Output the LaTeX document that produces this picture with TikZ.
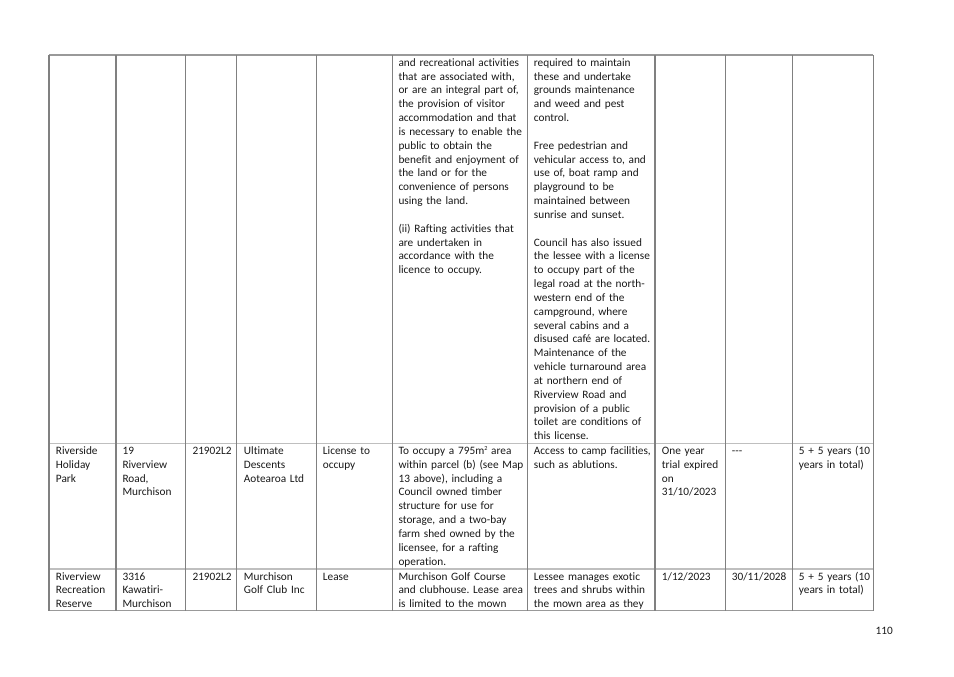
\documentclass[tikz,border=0pt]{standalone}
\usepackage{fontspec}
\setmainfont{Carlito}[Ligatures=NoCommon]
\usepackage{tikz}
\frenchspacing

\begin{document}
\begin{tikzpicture}[x=0.8858pt, y=-0.8858pt,
        cell/.style={anchor=base west, inner sep=0pt, align=left, text=black!90,
            font=\fontsize{10}{12.25}\selectfont},
        vrule/.style={draw=black!50, line width=0.9pt},
        hrule/.style={draw=black!25, line width=1.6pt},
        edgerule/.style={draw=black!40, line width=1.3pt}]
        \useasboundingbox[fill=white] (0,0) rectangle (954,676);

        \draw[edgerule] (49,55) -- (873.3,55);
        \draw[hrule] (49,443.5) -- (873.3,443.5);
        \draw[hrule] (49,569) -- (873.3,569);
        \draw[edgerule] (49,610.7) -- (873.3,610.7);

        \draw[vrule] (49,55) -- (49,610.7);
        \draw[vrule] (116,55) -- (116,610.7);
        \draw[vrule] (185.7,55) -- (185.7,610.7);
        \draw[vrule] (236.7,55) -- (236.7,610.7);
        \draw[vrule] (316.3,55) -- (316.3,610.7);
        \draw[vrule] (392.3,55) -- (392.3,610.7);
        \draw[vrule] (527.3,55) -- (527.3,610.7);
        \draw[vrule] (655,55) -- (655,610.7);
        \draw[vrule] (725.7,55) -- (725.7,610.7);
        \draw[vrule] (792.7,55) -- (792.7,610.7);
        \draw[vrule] (873.3,55) -- (873.3,610.7);

        \node[cell, text width=127pt] (purpose1) at (398.3,66.3) {and recreational activities\\
            that are associated with,\\ or are an integral part of,\\ the provision of visitor\\
            accommodation and that\\ is necessary to enable the\\ public to obtain the\\
            benefit and enjoyment of\\ the land or for the\\ convenience of persons\\
            using the land.\\[12.25pt]
            (ii) Rafting activities that\\ are undertaken in\\ accordance with the\\ licence to occupy.};
        \node[cell, text width=120pt] (cond1) at (533.7,66.3) {required to maintain\\
            these and undertake\\ grounds maintenance\\ and weed and pest\\ control.\\[12.25pt]
            Free pedestrian and\\ vehicular access to, and\\ use of, boat ramp and\\
            playground to be\\ maintained between\\ sunrise and sunset.\\[12.25pt]
            Council has also issued\\ the lessee with a license\\ to occupy part of the\\
            legal road at the north-\\ western end of the\\ campground, where\\
            several cabins and a\\ disused café are located.\\ Maintenance of the\\
            vehicle turnaround area\\ at northern end of\\ Riverview Road and\\
            provision of a public\\ toilet are conditions of\\ this license.};

        \node[cell, text width=59pt] (site2) at (55.7,454.5) {Riverside\\ Holiday\\ Park};
        \node[cell, text width=61pt] (addr2) at (122.3,454.5) {19\\ Riverview\\ Road,\\ Murchison};
        \node[cell, text width=43pt] (ref2) at (192.3,454.5) {21902L2};
        \node[cell, text width=71pt] (holder2) at (243.7,454.5) {Ultimate\\ Descents\\ Aotearoa Ltd};
        \node[cell, text width=67pt] (kind2) at (322.7,454.5) {License to\\ occupy};
        \node[cell, text width=127pt] (purpose2) at (398.3,454.5) {To occupy a 795m\raisebox{3.6pt}{\fontsize{5.5}{6}\selectfont 2} area\\
            within parcel (b) (see Map\\ 13 above), including a\\ Council owned timber\\
            structure for use for\\ storage, and a two-bay\\ farm shed owned by the\\
            licensee, for a rafting\\ operation.};
        \node[cell, text width=120pt] (cond2) at (533.7,454.5) {Access to camp facilities,\\ such as ablutions.};
        \node[cell, text width=62pt] (start2) at (661.7,454.5) {One year\\ trial expired\\ on\\ 31/10/2023};
        \node[cell, text width=59pt] (expiry2) at (731.7,454.5) {-{}-{}-};
        \node[cell, text width=72pt] (term2) at (798.7,454.5) {5 + 5 years (10\\ years in total)};

        \node[cell, text width=59pt] (site3) at (55.7,580) {Riverview\\ Recreation\\ Reserve};
        \node[cell, text width=61pt] (addr3) at (122.3,580) {3316\\ Kawatiri-\\ Murchison};
        \node[cell, text width=43pt] (ref3) at (192.3,580) {21902L2};
        \node[cell, text width=71pt] (holder3) at (243.7,580) {Murchison\\ Golf Club Inc};
        \node[cell, text width=67pt] (kind3) at (322.7,580) {Lease};
        \node[cell, text width=127pt] (purpose3) at (398.3,580) {Murchison Golf Course\\
            and clubhouse. Lease area\\ is limited to the mown};
        \node[cell, text width=120pt] (cond3) at (533.7,580) {Lessee manages exotic\\
            trees and shrubs within\\ the mown area as they};
        \node[cell, text width=62pt] (start3) at (661.7,580) {1/12/2023};
        \node[cell, text width=59pt] (expiry3) at (731.7,580) {30/11/2028};
        \node[cell, text width=72pt] (term3) at (798.7,580) {5 + 5 years (10\\ years in total)};

        \node[cell, anchor=base east] (pageno) at (893,634) {110};
    \end{tikzpicture}
\end{document}
